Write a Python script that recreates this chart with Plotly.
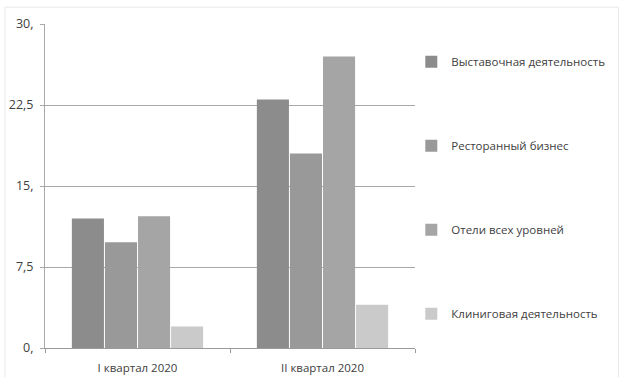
import plotly.graph_objects as go

categories = ["I квартал 2020", "II квартал 2020"]
series_names = ["Выставочная деятельность", "Ресторанный бизнес", "Отели всех уровней", "Клиниговая деятельность"]
vals_exhibition = [12.0, 23.0]
vals_restaurant = [9.8, 18.0]
vals_hotels = [12.2, 27.0]
vals_cleaning = [2.0, 4.0]
colors = ["#8c8c8c", "#999999", "#a5a5a5", "#cacaca"]
tick_vals = [0, 7.5, 15, 22.5, 30]
tick_text = ["0,", "7,5", "15,", "22,5", "30,"]

series = [vals_exhibition, vals_restaurant, vals_hotels, vals_cleaning]

fig = go.Figure()
for i, (name, vals) in enumerate(zip(series_names, series)):
    fig.add_trace(go.Bar(
        x=categories, y=vals, name=name, marker_color=colors[i],
        marker_line_width=0, legendgroup=f"g{i}",
    ))

font = dict(family="Open Sans, Liberation Sans, sans-serif", size=11.5, color="#404040")
fig.update_layout(
    width=625, height=377,
    margin=dict(l=45, r=210, t=24, b=29),
    paper_bgcolor="white", plot_bgcolor="white",
    barmode="group", bargap=0.285, bargroupgap=0.03,
    font=font,
    showlegend=True,
    legend=dict(
        x=0.99, xanchor="left", y=0.928, yanchor="top",
        tracegroupgap=65, itemwidth=30, font=dict(size=11.5, color="#404040"),
        bgcolor="rgba(0,0,0,0)",
    ),
    xaxis=dict(
        showline=True, linecolor="#9a9a9a", linewidth=1,
        ticks="outside", ticklen=4, tickcolor="#9a9a9a", tickson="boundaries",
        showgrid=False, tickfont=dict(size=11.5, color="#404040"),
        ticklabelstandoff=9, automargin=False,
    ),
    yaxis=dict(
        range=[0, 30], tickvals=tick_vals, ticktext=tick_text,
        showgrid=True, gridcolor="#a8a8a8", gridwidth=1,
        showline=True, linecolor="#a8a8a8", linewidth=1,
        ticks="outside", ticklen=4, tickcolor="#a8a8a8",
        zeroline=False, tickfont=dict(size=12.5, color="#404040"),
        ticklabelstandoff=4, automargin=False,
    ),
    shapes=[dict(type="rect", xref="paper", yref="paper",
                 x0=-0.108, x1=1.55, y0=-0.12, y1=1.052,
                 line=dict(color="#e8e8e8", width=1))],
)

fig.write_html("out.html")
